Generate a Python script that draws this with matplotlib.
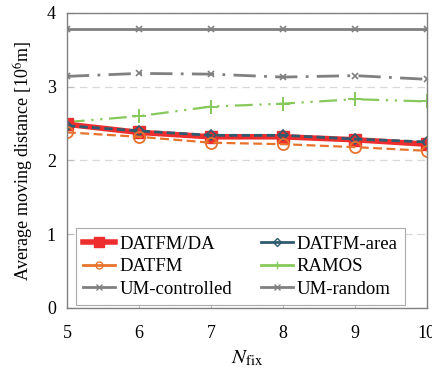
import matplotlib
matplotlib.use("Agg")
import matplotlib.pyplot as plt
from matplotlib.lines import Line2D

plt.rcParams['font.family'] = ['Liberation Serif', 'DejaVu Serif']
plt.rcParams['mathtext.fontset'] = 'stix'

n_fix = [5, 6, 7, 8, 9, 10]
datfm_da = [2.49, 2.38, 2.32, 2.32, 2.28, 2.22]
datfm_area = [2.47, 2.40, 2.34, 2.34, 2.29, 2.25]
datfm = [2.38, 2.32, 2.24, 2.22, 2.18, 2.13]
ramos = [2.52, 2.60, 2.73, 2.77, 2.83, 2.80]
um_controlled = [3.78, 3.78, 3.78, 3.78, 3.78, 3.78]
um_random = [3.14, 3.18, 3.17, 3.13, 3.15, 3.10]

c_red = '#ee2e2e'
c_teal = '#2f5b70'
c_orange = '#e8732c'
c_green = '#86c95a'
c_grey = '#808080'

fig = plt.figure(figsize=(4.32, 3.70), dpi=100)
ax = fig.add_axes([0.155, 0.168, 0.833, 0.797])

ax.plot(n_fix, um_controlled, color=c_grey, lw=2, marker='x', ms=5, mew=1.2)
ax.plot(n_fix, um_random, color=c_grey, lw=2, ls=(0, (8, 3, 1, 3)), marker='x', ms=5, mew=1.2)
ax.plot(n_fix, ramos, color=c_green, lw=1.6, ls=(0, (8, 3, 1, 3, 1, 3)), marker='+', ms=10, mew=1.4)
ax.plot(n_fix, datfm_da, color=c_red, lw=4, marker='s', ms=8)
ax.plot(n_fix, datfm_area, color=c_teal, lw=2, ls=(0, (3, 1.5)), marker='D', ms=5, mfc='none', mew=1.2)
ax.plot(n_fix, datfm, color=c_orange, lw=1.6, ls=(0, (4, 2)), marker='o', ms=8, mfc='none', mew=1.3)

ax.set_xlim(5, 10)
ax.set_ylim(0, 4)
ax.set_xticks(n_fix)
ax.set_yticks([0, 1, 2, 3, 4])
ax.tick_params(direction='in', labelsize=13, color='#bbbbbb', length=4)
ax.tick_params(axis='x', pad=12)
ax.tick_params(axis='y', pad=8)
ax.yaxis.grid(True, ls=(0, (6, 4)), color='#d8d8d8', lw=0.9)
ax.set_axisbelow(True)
for s in ax.spines.values():
    s.set_color('#808080')
    s.set_linewidth(1)

ax.set_xlabel(r'$N_{\mathrm{fix}}$', fontsize=15, labelpad=5)
ax.set_ylabel(r'Average moving distance [10$^6$m]', fontsize=13, labelpad=8)

# legend filled column by column, so order gives rows as in the figure
handles = [
    Line2D([], [], color=c_red, lw=4, marker='s', ms=7),
    Line2D([], [], color=c_orange, lw=2, marker='o', ms=5, mfc='none'),
    Line2D([], [], color=c_grey, lw=2, marker='x', ms=4),
    Line2D([], [], color=c_teal, lw=2, marker='D', ms=4, mfc='none'),
    Line2D([], [], color=c_green, lw=2, marker='+', ms=6),
    Line2D([], [], color=c_grey, lw=2, marker='x', ms=4),
]
labels = ['DATFM/DA', 'DATFM', 'UM-controlled', 'DATFM-area', 'RAMOS', 'UM-random']
leg = ax.legend(handles, labels, ncol=2, loc='upper left', bbox_to_anchor=(0.025, 0.27),
                fontsize=13.5, handlelength=1.7, handletextpad=0.2,
                labelspacing=0.28, borderpad=0.4, borderaxespad=0, columnspacing=1.55,
                fancybox=False, framealpha=1, edgecolor='#aaaaaa')
leg.get_frame().set_linewidth(0.8)

fig.savefig('out.png', dpi=100)
